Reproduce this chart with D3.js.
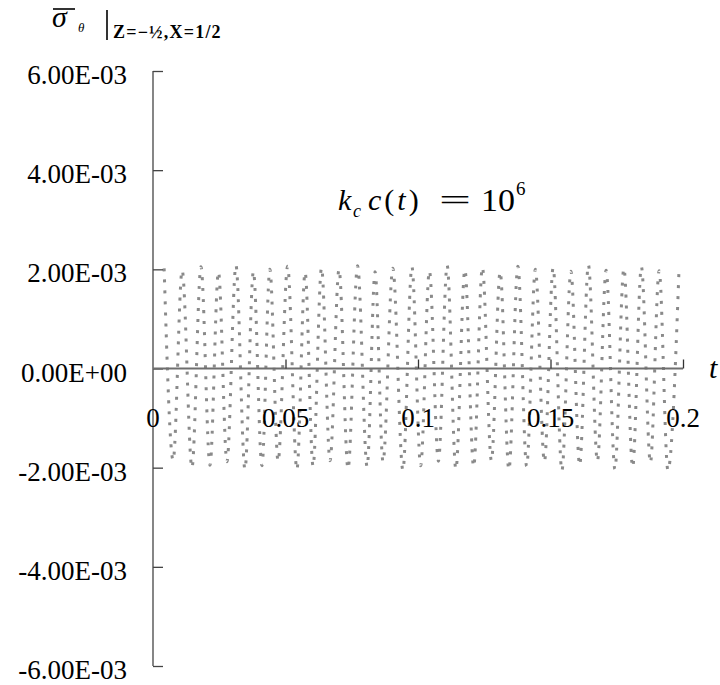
<!DOCTYPE html>
<html>
<head>
<meta charset="utf-8">
<script src="https://cdn.jsdelivr.net/npm/d3@7"></script>
<style>
  html, body { margin: 0; padding: 0; background: #fff; }
  svg { display: block; }
  svg text { font-family: "Liberation Serif", "DejaVu Serif", "Noto Serif", "Times New Roman", serif !important; fill: #000; }
</style>
</head>
<body>
<svg id="chart" width="720" height="685"></svg>
<script>
// ---- data ----
const timeValues = [
  0.0042, 0.0076, 0.0110, 0.0147, 0.0181, 0.0215, 0.0247, 0.0279, 0.0313, 0.0347,
  0.0379, 0.0411, 0.0441, 0.0472, 0.0508, 0.0543, 0.0574, 0.0604, 0.0636, 0.0668,
  0.0702, 0.0736, 0.0772, 0.0808, 0.0838, 0.0868, 0.0905, 0.0943, 0.0977, 0.1010,
  0.1043, 0.1077, 0.1110, 0.1143, 0.1177, 0.1210, 0.1243, 0.1277, 0.1310, 0.1343,
  0.1377, 0.1410, 0.1443, 0.1477, 0.1510, 0.1543, 0.1577, 0.1610, 0.1643, 0.1677,
  0.1710, 0.1743, 0.1777, 0.1810, 0.1843, 0.1877, 0.1910, 0.1943, 0.1985
];
const sigmaValues = [
  0.00202, -0.00185, 0.00198, -0.00200, 0.00205, -0.00195, 0.00195, -0.00188, 0.00208, -0.00203,
  0.00196, -0.00196, 0.00200, -0.00187, 0.00206, -0.00204, 0.00194, -0.00197, 0.00203, -0.00186,
  0.00200, -0.00202, 0.00207, -0.00198, 0.00195, -0.00188, 0.00202, -0.00205, 0.00205, -0.00196,
  0.00197, -0.00187, 0.00208, -0.00203, 0.00199, -0.00198, 0.00204, -0.00186, 0.00195, -0.00204,
  0.00206, -0.00197, 0.00200, -0.00188, 0.00203, -0.00206, 0.00196, -0.00195, 0.00209, -0.00187,
  0.00198, -0.00203, 0.00202, -0.00199, 0.00205, -0.00190, 0.00197, -0.00205, 0.00200
];
const yTicks = [-0.006, -0.004, -0.002, 0, 0.002, 0.004, 0.006];
const yTickLabels = ["-6.00E-03", "-4.00E-03", "-2.00E-03", "0.00E+00", "2.00E-03", "4.00E-03", "6.00E-03"];
const xTicks = [0, 0.05, 0.1, 0.15, 0.2];
const xTickLabels = ["0", "0.05", "0.1", "0.15", "0.2"];

const SERIF = '"Liberation Serif", "DejaVu Serif", "Noto Serif", serif';

// ---- chart ----
const svg = d3.select("#chart");
const x = d3.scaleLinear().domain([0, 0.2]).range([153, 683]);
const y = d3.scaleLinear().domain([-0.006, 0.006]).range([666, 71]);

const points = timeValues.map((t, i) => ({ t, v: sigmaValues[i] }));

// series
const line = d3.line()
  .x(d => x(d.t))
  .y(d => y(d.v))
  .curve(d3.curveMonotoneX);

svg.append("path")
  .datum(points)
  .attr("d", line)
  .attr("fill", "none")
  .attr("stroke", "#8a8a8a")
  .attr("stroke-width", 3)
  .attr("stroke-dasharray", "3,8");

// y axis
const yAxis = d3.axisRight(y)
  .tickValues(yTicks)
  .tickSize(10)
  .tickFormat("");
const gy = svg.append("g").attr("transform", `translate(${x(0)},0)`).call(yAxis);
gy.select(".domain").attr("stroke", "#444").attr("stroke-width", 1.3).attr("d", `M0,${y(0.006)}V${y(-0.006)}`);
gy.selectAll(".tick line").attr("stroke", "#444").attr("stroke-width", 1.3);

svg.append("g").selectAll("text")
  .data(yTicks)
  .join("text")
  .attr("x", 127)
  .attr("y", d => y(d) + 13)
  .attr("text-anchor", "end")
  .attr("font-family", SERIF)
  .attr("font-size", 27)
  .text((d, i) => yTickLabels[i]);

// x axis
const xAxis = d3.axisTop(x)
  .tickValues(xTicks.slice(1))
  .tickSize(9)
  .tickFormat("");
const gx = svg.append("g").attr("transform", `translate(0,${y(0)})`).call(xAxis);
gx.select(".domain").attr("stroke", "#6e6e6e").attr("stroke-width", 2).attr("d", `M${x(0)},0H${x(0.2)}`);
gx.selectAll(".tick line").attr("stroke", "#333").attr("stroke-width", 1.3);

svg.append("g").selectAll("text")
  .data(xTicks)
  .join("text")
  .attr("x", d => x(d))
  .attr("y", y(0) + 58)
  .attr("text-anchor", "middle")
  .attr("font-family", SERIF)
  .attr("font-size", 27)
  .text((d, i) => xTickLabels[i]);

// axis title t
svg.append("text")
  .attr("x", 709)
  .attr("y", 378)
  .attr("font-family", SERIF)
  .attr("font-size", 30)
  .attr("font-style", "italic")
  .text("t");

// y title: sigma-bar theta | Z=-1/2, X=1/2
const title = svg.append("g");
title.append("text")
  .attr("x", 52).attr("y", 27)
  .attr("font-family", SERIF)
  .attr("font-size", 30)
  .attr("font-style", "italic")
  .text("σ");
title.append("line")
  .attr("x1", 53).attr("x2", 75).attr("y1", 9).attr("y2", 9)
  .attr("stroke", "#000").attr("stroke-width", 1.6);
title.append("text")
  .attr("x", 78).attr("y", 32)
  .attr("font-family", SERIF)
  .attr("font-size", 13)
  .attr("font-style", "italic")
  .text("θ");
title.append("line")
  .attr("x1", 107).attr("x2", 107).attr("y1", 10).attr("y2", 40)
  .attr("stroke", "#000").attr("stroke-width", 1.6);
title.append("text")
  .attr("x", 113).attr("y", 38)
  .attr("font-family", SERIF)
  .attr("font-size", 18)
  .attr("font-weight", "bold")
  .attr("letter-spacing", 1.2)
  .text("Z=−½,X=1/2");

// annotation k_c c(t) = 10^6
const ann = svg.append("g").attr("font-family", SERIF);
ann.append("text").attr("x", 338).attr("y", 210).attr("font-size", 30).attr("font-style", "italic").text("k");
ann.append("text").attr("x", 353).attr("y", 217).attr("font-size", 18).attr("font-style", "italic").text("c");
const ct = ann.append("text").attr("x", 368).attr("y", 210).attr("font-size", 30).attr("letter-spacing", 3);
ct.append("tspan").attr("font-style", "italic").text("c");
ct.append("tspan").text("(");
ct.append("tspan").attr("font-style", "italic").text("t");
ct.append("tspan").text(")");
ann.append("text").attr("x", 439).attr("y", 210).attr("font-size", 30)
  .attr("textLength", 32).attr("lengthAdjust", "spacingAndGlyphs").text("=");
ann.append("text").attr("x", 481).attr("y", 211).attr("font-size", 31)
  .attr("textLength", 34).attr("lengthAdjust", "spacingAndGlyphs").text("10");
ann.append("text").attr("x", 516).attr("y", 195).attr("font-size", 19).text("6");
</script>
</body>
</html>
